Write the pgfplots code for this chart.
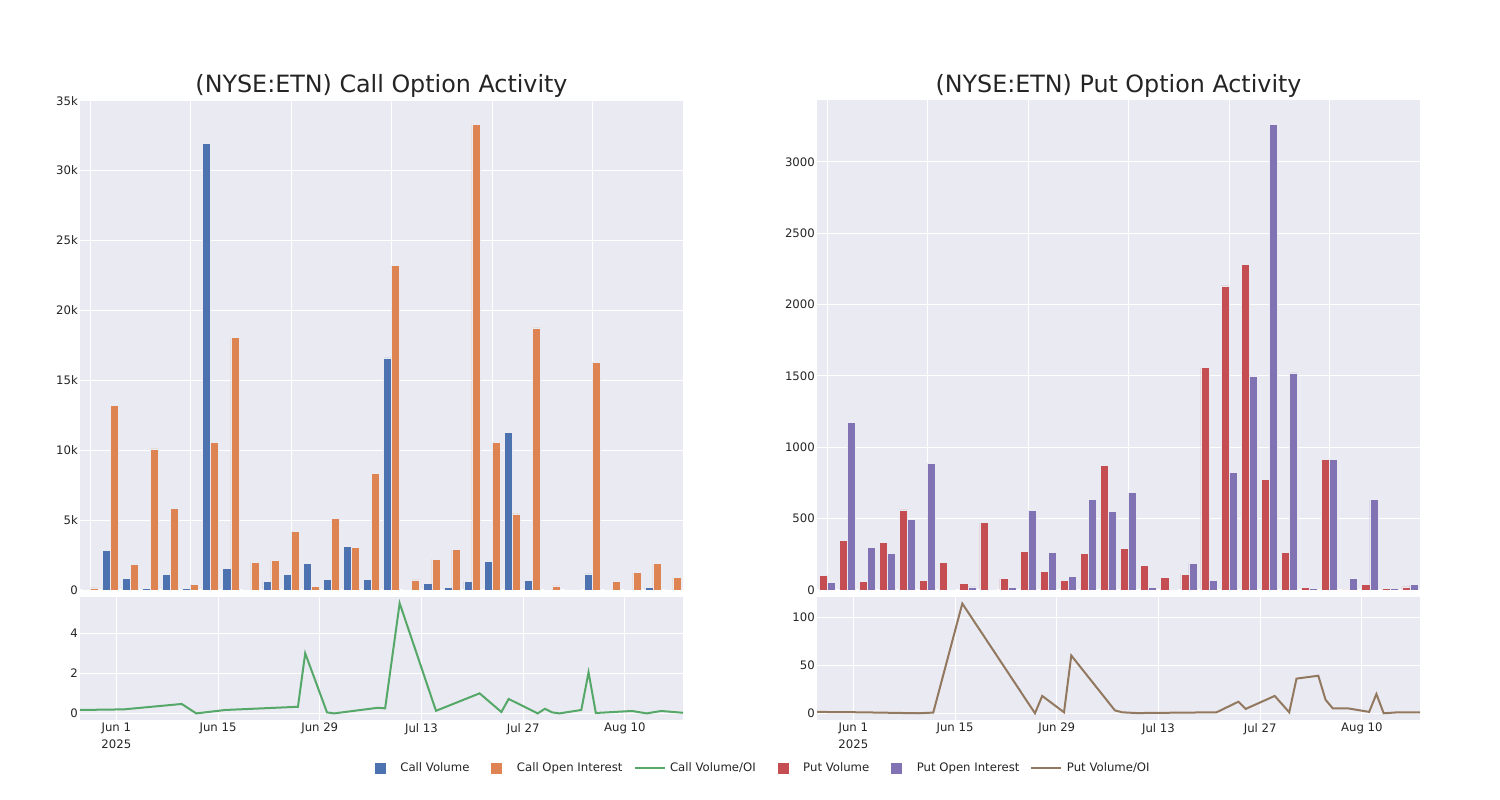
\documentclass[border=0pt]{standalone}
\usepackage{pgfplots}
\pgfplotsset{compat=1.18}
\usepackage{pgfplotstable}
\usepackage{fontspec}
\setmainfont{DejaVu Sans}
\definecolor{c1}{HTML}{4C72B0}
\definecolor{c2}{HTML}{DD8452}
\definecolor{c3}{HTML}{55A868}
\definecolor{c4}{HTML}{C44E52}
\definecolor{c5}{HTML}{8172B3}
\definecolor{c6}{HTML}{937860}
\definecolor{bgc}{HTML}{EAEAF2}
\definecolor{txt}{RGB}{36,36,36}

\pgfplotstableread{
i cv coi
0 20 150
1 2810 13200
2 840 1810
3 100 10100
4 1100 5850
5 120 400
6 31950 10570
7 1570 18060
8 50 1980
9 620 2120
10 1100 4170
11 1880 260
12 760 5100
13 3130 3060
14 760 8330
15 16600 23200
16 20 720
17 480 2200
18 170 2890
19 600 33300
20 2030 10550
21 11290 5440
22 670 18750
23 20 290
24 10 50
25 1150 16300
26 20 640
27 50 1260
28 170 1900
29 20 900
}\calltab

\pgfplotstableread{
i pv poi
0 105 56
1 350 1175
2 63 299
3 332 259
4 561 495
5 70 888
6 194 5
7 49 21
8 472 2
9 79 16
10 271 558
11 133 262
12 65 94
13 255 636
14 871 549
15 290 685
16 171 16
17 91 3
18 112 189
19 1558 70
20 2131 823
21 2280 1500
22 773 3262
23 262 1521
24 16 12
25 918 918
26 1 79
27 42 633
28 9 9
29 21 37
}\puttab

\pgfplotstableread{
d r
-5 0.17
1 0.2
9 0.47
11 0.0
15 0.17
25 0.33
26 3.0
29 0.05
30 0.0
36 0.28
37 0.25
39 5.5
44 0.13
50 1.0
53 0.07
54 0.72
58 0.0
59 0.23
60 0.05
61 0.0
64 0.17
65 2.05
66 0.02
71 0.12
73 0.0
75 0.12
78 0.03
}\callratio

\pgfplotstableread{
d r
-5 1.4
1 1.0
9 0.0
11 0.7
15 114
25 0.0
26 18
29 1.0
30 60
36 3.0
37 1.0
39 0.2
50 1.0
53 12
54 4.5
58 18
60 1.0
61 36
64 39
65 14
66 5.0
68 5.2
71 1.4
72 20
73 0.0
75 1.0
78 1.0
}\putratio

\pgfplotsset{
  base/.style={
    scale only axis,
    axis background/.style={fill=bgc},
    axis line style={draw=none},
    major tick length=0pt,
    grid=major,
    grid style={white, line width=1pt},
    scaled ticks=false,
    tick label style={font=\fontsize{11.7}{17}\selectfont, text=txt},
    yticklabel style={inner sep=2pt},
    xticklabel style={inner sep=3pt, align=center},
    /pgf/number format/assume math mode=true,
    title style={font=\fontsize{23.8}{28}\selectfont, text=txt, at={(0.5,1)}, anchor=center, yshift=8.5pt},
  },
  barax/.style={base, width=603pt, height=490pt, xmin=-0.5, xmax=29.5, ymin=0,
    xtick={0,5,10,15,20,25}, xticklabels={}},
  lineax/.style={base, width=603pt, height=123pt, xmin=-5, xmax=78,
    xtick={0,14,28,42,56,70},
    xticklabels={{Jun 1\\2025},{Jun 15},{Jun 29},{Jul 13},{Jul 27},{Aug 10}}},
  sqimg/.style={legend image code/.code={\path[draw=none,fill=none] (0pt,-6pt) rectangle (40pt,6pt);\fill[#1,draw=white,line width=0.4pt] (14pt,-6pt) rectangle (26pt,6pt);}},
  lnimg/.style={legend image code/.code={\path[draw=none,fill=none] (0pt,-6pt) rectangle (40pt,6pt);\draw[#1,line width=2pt] (5pt,0pt) -- (35pt,0pt);}},
}

\begin{document}
\begin{tikzpicture}[x=1pt,y=1pt]
\useasboundingbox (0,0) rectangle (1500,800);

% Call bars
\begin{axis}[barax, at={(80pt,210pt)}, anchor=south west, ymax=35050,
  ytick={0,5000,10000,15000,20000,25000,30000,35000},
  yticklabels={0,5k,10k,15k,20k,25k,30k,35k},
  title={(NYSE:ETN) Call Option Activity}]
\addplot[ybar, bar width=0.4, bar shift=-0.2, fill=c1, draw=bgc, line width=0.5pt] table[x=i,y=cv]{\calltab};
\addplot[ybar, bar width=0.4, bar shift=0.2, fill=c2, draw=bgc, line width=0.5pt] table[x=i,y=coi]{\calltab};
\end{axis}

% Put bars
\begin{axis}[barax, at={(817pt,210pt)}, anchor=south west, ymax=3434,
  ytick={0,500,1000,1500,2000,2500,3000},
  yticklabels={0,500,1000,1500,2000,2500,3000},
  title={(NYSE:ETN) Put Option Activity}]
\addplot[ybar, bar width=0.4, bar shift=-0.2, fill=c4, draw=bgc, line width=0.5pt] table[x=i,y=pv]{\puttab};
\addplot[ybar, bar width=0.4, bar shift=0.2, fill=c5, draw=bgc, line width=0.5pt] table[x=i,y=poi]{\puttab};
\end{axis}

% Call ratio
\begin{axis}[lineax, at={(80pt,80pt)}, anchor=south west, ymin=-0.33, ymax=5.81,
  ytick={0,2,4}, yticklabels={0,2,4}]
\addplot[c3, line width=2pt] table[x=d,y=r]{\callratio};
\end{axis}

% Put ratio
\begin{axis}[lineax, at={(817pt,80pt)}, anchor=south west, ymin=-7, ymax=120.8,
  ytick={0,50,100}, yticklabels={0,50,100}]
\addplot[c6, line width=2pt] table[x=d,y=r]{\putratio};
\end{axis}

% Legend holder
\begin{axis}[hide axis, scale only axis, width=10pt, height=10pt,
  at={(755pt,32pt)}, anchor=center, xmin=0, xmax=1, ymin=0, ymax=1,
  legend columns=6,
  legend style={at={(0.5,0.5)}, anchor=center, draw=none, fill=none,
    font=\fontsize{11.7}{14}\selectfont, text=txt,
    nodes={inner sep=0.5pt},
    /tikz/every even column/.append style={column sep=6.5pt}}]
\addlegendimage{sqimg=c1}
\addlegendentry{Call Volume}
\addlegendimage{sqimg=c2}
\addlegendentry{Call Open Interest}
\addlegendimage{lnimg=c3}
\addlegendentry{Call Volume/OI}
\addlegendimage{sqimg=c4}
\addlegendentry{Put Volume}
\addlegendimage{sqimg=c5}
\addlegendentry{Put Open Interest}
\addlegendimage{lnimg=c6}
\addlegendentry{Put Volume/OI}
\end{axis}
\end{tikzpicture}
\end{document}
